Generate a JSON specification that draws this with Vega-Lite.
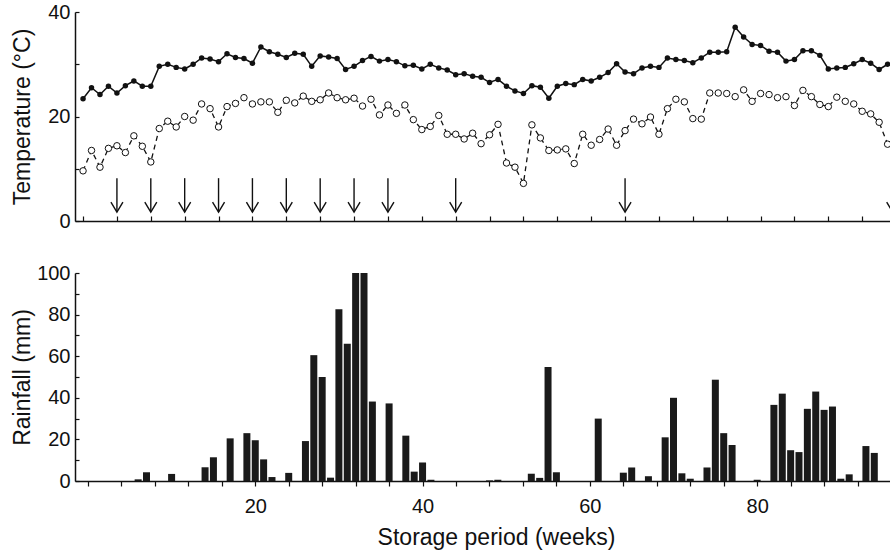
{
  "$schema": "https://vega.github.io/schema/vega-lite/v6.json",
  "background": "white",
  "padding": {"left": 11, "top": 2, "right": 0, "bottom": 2},
  "spacing": 52,
  "bounds": "flush",
  "config": {
    "view": {"stroke": null},
    "font": "Liberation Sans",
    "axis": {
      "grid": false,
      "domainColor": "#111",
      "domainWidth": 1.5,
      "tickColor": "#111",
      "tickWidth": 1.2,
      "labelColor": "#111",
      "titleColor": "#111",
      "labelFontSize": 20,
      "titleFontSize": 23,
      "titleFontWeight": "normal",
      "labelFont": "Liberation Sans",
      "titleFont": "Liberation Sans"
    }
  },
  "datasets": {
    "temp": [
      {"week":0,"tmax":23.4,"tmin":9.6},{"week":1,"tmax":25.5,"tmin":13.5},{"week":2,"tmax":24.2,"tmin":10.3},{"week":3,"tmax":25.8,"tmin":13.9},{"week":4,"tmax":24.5,"tmin":14.4},{"week":5,"tmax":25.9,"tmin":13.1},{"week":6,"tmax":26.8,"tmin":16.3},{"week":7,"tmax":25.8,"tmin":14.3},{"week":8,"tmax":25.8,"tmin":11.3},{"week":9,"tmax":29.6,"tmin":17.7},
      {"week":10,"tmax":30.0,"tmin":19.1},{"week":11,"tmax":29.4,"tmin":18.0},{"week":12,"tmax":29.1,"tmin":20.0},{"week":13,"tmax":30.0,"tmin":19.3},{"week":14,"tmax":31.2,"tmin":22.4},{"week":15,"tmax":31.0,"tmin":21.5},{"week":16,"tmax":30.5,"tmin":18.0},{"week":17,"tmax":32.0,"tmin":21.9},{"week":18,"tmax":31.3,"tmin":22.5},{"week":19,"tmax":31.1,"tmin":23.6},
      {"week":20,"tmax":30.2,"tmin":22.4},{"week":21,"tmax":33.3,"tmin":22.8},{"week":22,"tmax":32.4,"tmin":22.8},{"week":23,"tmax":31.9,"tmin":20.8},{"week":24,"tmax":31.3,"tmin":23.1},{"week":25,"tmax":32.1,"tmin":22.6},{"week":26,"tmax":31.9,"tmin":23.9},{"week":27,"tmax":29.6,"tmin":22.9},{"week":28,"tmax":31.6,"tmin":23.2},{"week":29,"tmax":31.4,"tmin":24.5},
      {"week":30,"tmax":31.1,"tmin":23.6},{"week":31,"tmax":29.0,"tmin":23.2},{"week":32,"tmax":29.6,"tmin":23.5},{"week":33,"tmax":30.7,"tmin":22.0},{"week":34,"tmax":31.5,"tmin":23.3},{"week":35,"tmax":30.6,"tmin":20.3},{"week":36,"tmax":30.9,"tmin":22.2},{"week":37,"tmax":30.5,"tmin":20.6},{"week":38,"tmax":29.7,"tmin":22.2},{"week":39,"tmax":29.8,"tmin":19.4},
      {"week":40,"tmax":29.1,"tmin":17.5},{"week":41,"tmax":30.0,"tmin":18.1},{"week":42,"tmax":29.3,"tmin":20.2},{"week":43,"tmax":28.9,"tmin":16.6},{"week":44,"tmax":28.0,"tmin":16.6},{"week":45,"tmax":28.2,"tmin":15.7},{"week":46,"tmax":27.7,"tmin":16.8},{"week":47,"tmax":27.5,"tmin":14.8},{"week":48,"tmax":26.5,"tmin":16.5},{"week":49,"tmax":27.1,"tmin":18.5},
      {"week":50,"tmax":25.8,"tmin":11.1},{"week":51,"tmax":24.9,"tmin":10.3},{"week":52,"tmax":24.4,"tmin":7.2},{"week":53,"tmax":25.9,"tmin":18.4},{"week":54,"tmax":25.6,"tmin":15.9},{"week":55,"tmax":23.5,"tmin":13.5},{"week":56,"tmax":25.8,"tmin":13.6},{"week":57,"tmax":26.3,"tmin":13.8},{"week":58,"tmax":26.1,"tmin":11.0},{"week":59,"tmax":27.1,"tmin":16.6},
      {"week":60,"tmax":26.8,"tmin":14.5},{"week":61,"tmax":27.5,"tmin":15.6},{"week":62,"tmax":28.4,"tmin":17.6},{"week":63,"tmax":30.1,"tmin":14.5},{"week":64,"tmax":28.5,"tmin":17.3},{"week":65,"tmax":28.2,"tmin":19.5},{"week":66,"tmax":29.3,"tmin":18.6},{"week":67,"tmax":29.6,"tmin":19.9},{"week":68,"tmax":29.4,"tmin":16.6},{"week":69,"tmax":31.2,"tmin":21.5},
      {"week":70,"tmax":30.9,"tmin":23.3},{"week":71,"tmax":30.7,"tmin":22.8},{"week":72,"tmax":30.3,"tmin":19.6},{"week":73,"tmax":31.2,"tmin":19.5},{"week":74,"tmax":32.3,"tmin":24.5},{"week":75,"tmax":32.3,"tmin":24.5},{"week":76,"tmax":32.4,"tmin":24.4},{"week":77,"tmax":37.1,"tmin":23.8},{"week":78,"tmax":35.2,"tmin":25.1},{"week":79,"tmax":33.8,"tmin":22.9},
      {"week":80,"tmax":33.6,"tmin":24.4},{"week":81,"tmax":32.5,"tmin":24.2},{"week":82,"tmax":32.3,"tmin":23.6},{"week":83,"tmax":30.6,"tmin":23.8},{"week":84,"tmax":30.9,"tmin":22.1},{"week":85,"tmax":32.6,"tmin":25.0},{"week":86,"tmax":32.6,"tmin":23.8},{"week":87,"tmax":31.7,"tmin":22.3},{"week":88,"tmax":29.1,"tmin":21.9},{"week":89,"tmax":29.3,"tmin":23.7},
      {"week":90,"tmax":29.4,"tmin":22.9},{"week":91,"tmax":30.1,"tmin":22.4},{"week":92,"tmax":30.9,"tmin":21.0},{"week":93,"tmax":30.2,"tmin":20.5},{"week":94,"tmax":29.0,"tmin":18.9},{"week":95,"tmax":30.0,"tmin":14.7}
    ],
    "arrows": [
      {"week":4},{"week":8},{"week":12},{"week":16},{"week":20},{"week":24},{"week":28},{"week":32},{"week":36},{"week":44},{"week":64},{"week":95.6}
    ],
    "rain": [
      {"week":6,"rain":0.8},{"week":7,"rain":4.2},{"week":10,"rain":3.4},{"week":14,"rain":6.6},{"week":15,"rain":11.4},{"week":17,"rain":20.5},{"week":19,"rain":23},{"week":20,"rain":19.6},{"week":21,"rain":10.4},{"week":22,"rain":1.9},{"week":24,"rain":3.9},
      {"week":26,"rain":19.2},{"week":27,"rain":60.5},{"week":28,"rain":50},{"week":29,"rain":1.6},{"week":30,"rain":82.6},{"week":31,"rain":66},{"week":32,"rain":100},{"week":33,"rain":100},{"week":34,"rain":38.2},{"week":36,"rain":37.3},{"week":38,"rain":21.8},{"week":39,"rain":4.5},{"week":40,"rain":8.9},{"week":41,"rain":0.6},
      {"week":48,"rain":0.3},{"week":49,"rain":0.6},{"week":53,"rain":3.5},{"week":54,"rain":1.5},{"week":55,"rain":54.8},{"week":56,"rain":4.2},{"week":61,"rain":30},{"week":64,"rain":4},{"week":65,"rain":6.5},{"week":67,"rain":2.3},{"week":69,"rain":21},{"week":70,"rain":40},{"week":71,"rain":3.7},{"week":72,"rain":1.1},
      {"week":74,"rain":6.5},{"week":75,"rain":48.7},{"week":76,"rain":23},{"week":77,"rain":17.3},{"week":80,"rain":0.6},{"week":82,"rain":36.6},{"week":83,"rain":42},{"week":84,"rain":14.8},{"week":85,"rain":13.9},{"week":86,"rain":34.7},{"week":87,"rain":43},{"week":88,"rain":34.2},{"week":89,"rain":35.8},{"week":90,"rain":1.1},{"week":91,"rain":3.2},{"week":93,"rain":16.8},{"week":94,"rain":13.5}
    ]
  },
  "vconcat": [
    {
      "width": 816,
      "height": 209,
      "encoding": {
        "x": {
          "field": "week", "type": "quantitative",
          "scale": {"domain": [-0.95, 95.4], "nice": false, "zero": false},
          "axis": {"title": null, "labels": false, "values": [0,4,8,12,16,20,24,28,32,36,40,44,48,52,56,60,64,68,72,76,80,84,88,92], "tickSize": -5}
        }
      },
      "layer": [
        {
          "data": {"name": "temp"},
          "mark": {"type": "line", "color": "#111", "strokeWidth": 1.5, "clip": true},
          "encoding": {
            "y": {"field": "tmax", "type": "quantitative", "scale": {"domain": [0, 40], "nice": false},
              "axis": {"title": "Temperature (°C)", "values": [0,10,20,30,40], "labelExpr": "datum.value % 20 == 0 ? datum.label : ''", "tickSize": -4, "labelPadding": 9, "titlePadding": 13}}
          }
        },
        {
          "data": {"name": "temp"},
          "mark": {"type": "point", "filled": true, "color": "#111", "size": 30, "opacity": 1, "clip": true},
          "encoding": {"y": {"field": "tmax", "type": "quantitative"}}
        },
        {
          "data": {"name": "temp"},
          "mark": {"type": "line", "color": "#111", "strokeWidth": 1.3, "strokeDash": [5, 4], "clip": true},
          "encoding": {"y": {"field": "tmin", "type": "quantitative"}}
        },
        {
          "data": {"name": "temp"},
          "mark": {"type": "point", "filled": false, "fill": "white", "fillOpacity": 1, "stroke": "#111", "strokeWidth": 1, "size": 42, "opacity": 1, "clip": true},
          "encoding": {"y": {"field": "tmin", "type": "quantitative"}}
        },
        {
          "data": {"name": "arrows"},
          "mark": {"type": "rule", "color": "#111", "strokeWidth": 1.4, "clip": true},
          "encoding": {"y": {"datum": 8.2, "type": "quantitative"}, "y2": {"datum": 1.7}}
        },
        {
          "data": {"name": "arrows"},
          "mark": {"type": "point", "shape": "M-0.6,-1L0,0L0.6,-1", "filled": false, "stroke": "#111", "strokeWidth": 1.4, "size": 400, "opacity": 1, "clip": true},
          "encoding": {"y": {"datum": 1.7, "type": "quantitative"}}
        }
      ]
    },
    {
      "width": 816,
      "height": 208,
      "data": {"name": "rain"},
      "mark": {"type": "bar", "color": "#1a1a1a", "size": 7, "clip": true},
      "encoding": {
        "x": {
          "field": "week", "type": "quantitative",
          "scale": {"domain": [-0.95, 95.4], "nice": false, "zero": false},
          "axis": {"title": "Storage period (weeks)", "titleX": 421, "values": [0,4,8,12,16,20,24,28,32,36,40,44,48,52,56,60,64,68,72,76,80,84,88,92], "labelExpr": "datum.value % 20 == 0 && datum.value > 0 ? datum.label : ''", "tickSize": 5, "labelPadding": 10, "titlePadding": 10}
        },
        "y": {
          "field": "rain", "type": "quantitative",
          "scale": {"domain": [0, 100], "nice": false},
          "axis": {"title": "Rainfall (mm)", "values": [0,10,20,30,40,50,60,70,80,90,100], "labelExpr": "datum.value % 20 == 0 ? datum.label : ''", "tickSize": -4, "labelPadding": 9, "titlePadding": 2}
        }
      }
    }
  ]
}
